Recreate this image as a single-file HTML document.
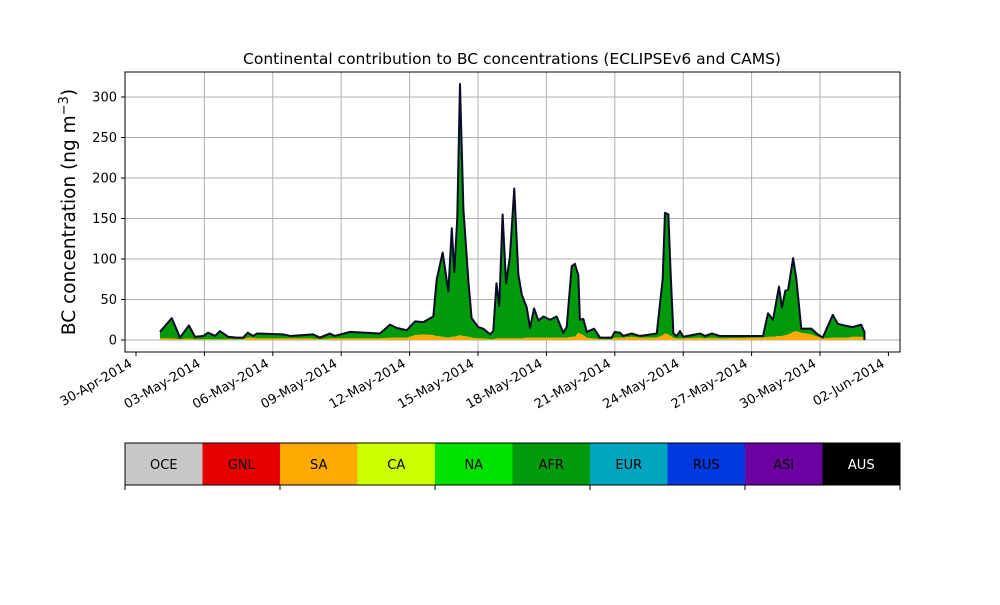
<!DOCTYPE html>
<html><head><meta charset="utf-8"><style>
body{margin:0;background:#fff;}
svg{font-family:"DejaVu Sans","Liberation Sans",sans-serif;}
</style></head><body>
<svg id="chart" width="1000" height="600" xmlns="http://www.w3.org/2000/svg">
<text x="512" y="64" text-anchor="middle" font-size="15.5">Continental contribution to BC concentrations (ECLIPSEv6 and CAMS)</text>
<text transform="translate(75,212) rotate(-90)" text-anchor="middle" font-size="18.5">BC concentration (ng m<tspan dy="-7" font-size="13">−3</tspan><tspan dy="7">)</tspan></text>
<g id="grid"></g><g id="series"></g><g id="axes"></g><g id="cbar"></g>
</svg>
<script>
// days since 30-Apr-2014
const times=[1.05,1.57,1.93,2.32,2.59,2.95,3.16,3.47,3.68,4.04,4.41,4.7,4.9,5.14,5.3,6.45,6.76,7.76,8.06,8.5,8.72,9.39,10.7,11.14,11.43,11.87,12.24,12.6,13.04,13.19,13.45,13.7,13.85,13.96,14.09,14.21,14.36,14.58,14.72,15.01,15.23,15.53,15.67,15.81,15.93,16.08,16.23,16.4,16.59,16.77,16.92,17.14,17.28,17.46,17.65,17.87,18.16,18.45,18.74,18.89,19.11,19.25,19.4,19.47,19.62,19.77,20.09,20.35,20.86,21.0,21.23,21.37,21.74,22.1,22.84,23.1,23.2,23.35,23.45,23.57,23.72,23.86,24.0,24.74,24.96,25.25,25.61,27.5,27.72,27.94,28.2,28.33,28.48,28.6,28.82,28.96,29.18,29.62,29.9,30.12,30.56,30.78,31.22,31.44,31.8,31.95];
const totals=[10,27,3,18,4,5,9,5,11,4,3,3,9,5,8,7,5,7,3,8,5,10,8,19,15,12,23,22,29,75,108,60,138,84,150,316,162,72,27,16,14,7,11,70,42,155,70,103,187,81,56,40,15,39,24,29,25,29,9,16,91,94,80,25,26,10,14,3,3,10,9,5,8,5,8,75,157,155,82,8,5,11,4,8,5,8,5,5,33,25,66,40,61,62,101,76,14,14,7,3,31,20,17,16,19,10];
const saVals=[2,2,1,2,1,1,1,1,1,1,1,1,3,3,2,2,2,2,1,2,2,2,2,3,3,3,6,7,6,5,4,3,4,4,5,6,5,4,3,2,2,1,1,2,2,2,2,2,2,2,2,3,3,3,3,3,3,3,3,3,4,4,9,8,6,3,2,1,1,3,3,3,4,3,3,6,8,7,5,3,2,2,2,3,2,3,2,3,4,4,5,5,6,7,10,11,9,7,4,2,3,3,3,4,4,3];
const yTicks=[0,50,100,150,200,250,300];
const xTickDays=[0,3,6,9,12,15,18,21,24,27,30,33];
const xTickLabels=["30-Apr-2014","03-May-2014","06-May-2014","09-May-2014","12-May-2014","15-May-2014","18-May-2014","21-May-2014","24-May-2014","27-May-2014","30-May-2014","02-Jun-2014"];
const regions=["OCE","GNL","SA","CA","NA","AFR","EUR","RUS","ASI","AUS"];
const regionColors=["#c8c8c8","#e60000","#ffaa00","#ccff00","#00e100","#009a0a","#00a5bf","#0039e0","#6c00a0","#000000"];

const NS="http://www.w3.org/2000/svg";
const X0=125,X1=900,Y0=72,Y1=352;
const xs=d=>136+d*22.8;
const ys=v=>340-v*0.81;
function mk(tag,attrs,parent){const e=document.createElementNS(NS,tag);for(const k in attrs)e.setAttribute(k,attrs[k]);parent.appendChild(e);return e;}
const gridG=document.getElementById('grid'),serG=document.getElementById('series'),axG=document.getElementById('axes'),cbG=document.getElementById('cbar');

yTicks.forEach(v=>{
 const l=mk('line',{x1:X0,x2:X1,y1:ys(v),y2:ys(v),stroke:'#b0b0b0','stroke-width':1},gridG);
 
 
 const t=mk('line',{x1:X0-4,x2:X0,y1:ys(v),y2:ys(v),stroke:'#000'},axG);
 
 
 const tx=mk('text',{x:X0-8,y:ys(v)+4.5,'text-anchor':'end','font-size':13},axG);
 tx.textContent=v;
 
 
});
xTickDays.forEach((d,i)=>{
 const x=xs(d);
 if(x>X0&&x<X1&&i>0&&i<xTickDays.length-1){
  const g=mk('line',{x1:x,x2:x,y1:Y0,y2:Y1,stroke:'#b0b0b0'},gridG);
  
  
 }
 const t=mk('line',{x1:x,x2:x,y1:Y1,y2:Y1+4,stroke:'#000'},axG);
 
 
 const tx=mk('text',{transform:`translate(${x-3},${Y1+14}) rotate(-30)`,'text-anchor':'end','font-size':13},axG);
 tx.textContent=xTickLabels[i];
 
 
});
// SA area
let pSA='M'+xs(times[0])+','+ys(0);
times.forEach((d,i)=>pSA+='L'+xs(d)+','+ys(saVals[i]));
pSA+='L'+xs(times[times.length-1])+','+ys(0)+'Z';
const saPath=mk('path',{d:pSA,fill:'#ffaa00'},serG);


// AFR area between sa and total
let pAFR='';
times.forEach((d,i)=>pAFR+=(i?'L':'M')+xs(d)+','+ys(totals[i]));
for(let i=times.length-1;i>=0;i--)pAFR+='L'+xs(times[i])+','+ys(saVals[i]);
pAFR+='Z';
const afrPath=mk('path',{d:pAFR,fill:'#009a0a'},serG);


let pTop='';
times.forEach((d,i)=>pTop+=(i?'L':'M')+xs(d)+','+ys(totals[i]));
pTop+='L'+xs(times[times.length-1])+','+ys(0);
const outlinePath=mk('path',{d:pTop,fill:'none',stroke:'#0a0a2a','stroke-width':2,'stroke-linejoin':'round'},serG);


const frameRect=mk('rect',{x:X0,y:Y0,width:X1-X0,height:Y1-Y0,fill:'none',stroke:'#000'},axG);


// colorbar
const cw=(X1-X0)/regions.length;
regions.forEach((n,i)=>{
 const rc=mk('rect',{x:X0+i*cw,y:443,width:cw,height:42,fill:regionColors[i]},cbG);
 
 
 const t=mk('text',{x:X0+i*cw+cw/2,y:469,'text-anchor':'middle','font-size':13,fill:n==='AUS'?'#fff':'#000'},cbG);
 t.textContent=n;
 
 
});
const cbFrame=mk('rect',{x:X0,y:443,width:X1-X0,height:42,fill:'none',stroke:'#000'},cbG);


for(let i=0;i<=10;i+=2){
 const t=mk('line',{x1:X0+i*cw,x2:X0+i*cw,y1:485,y2:490,stroke:'#000'},cbG);
 
 
}
</script>
</body></html>
